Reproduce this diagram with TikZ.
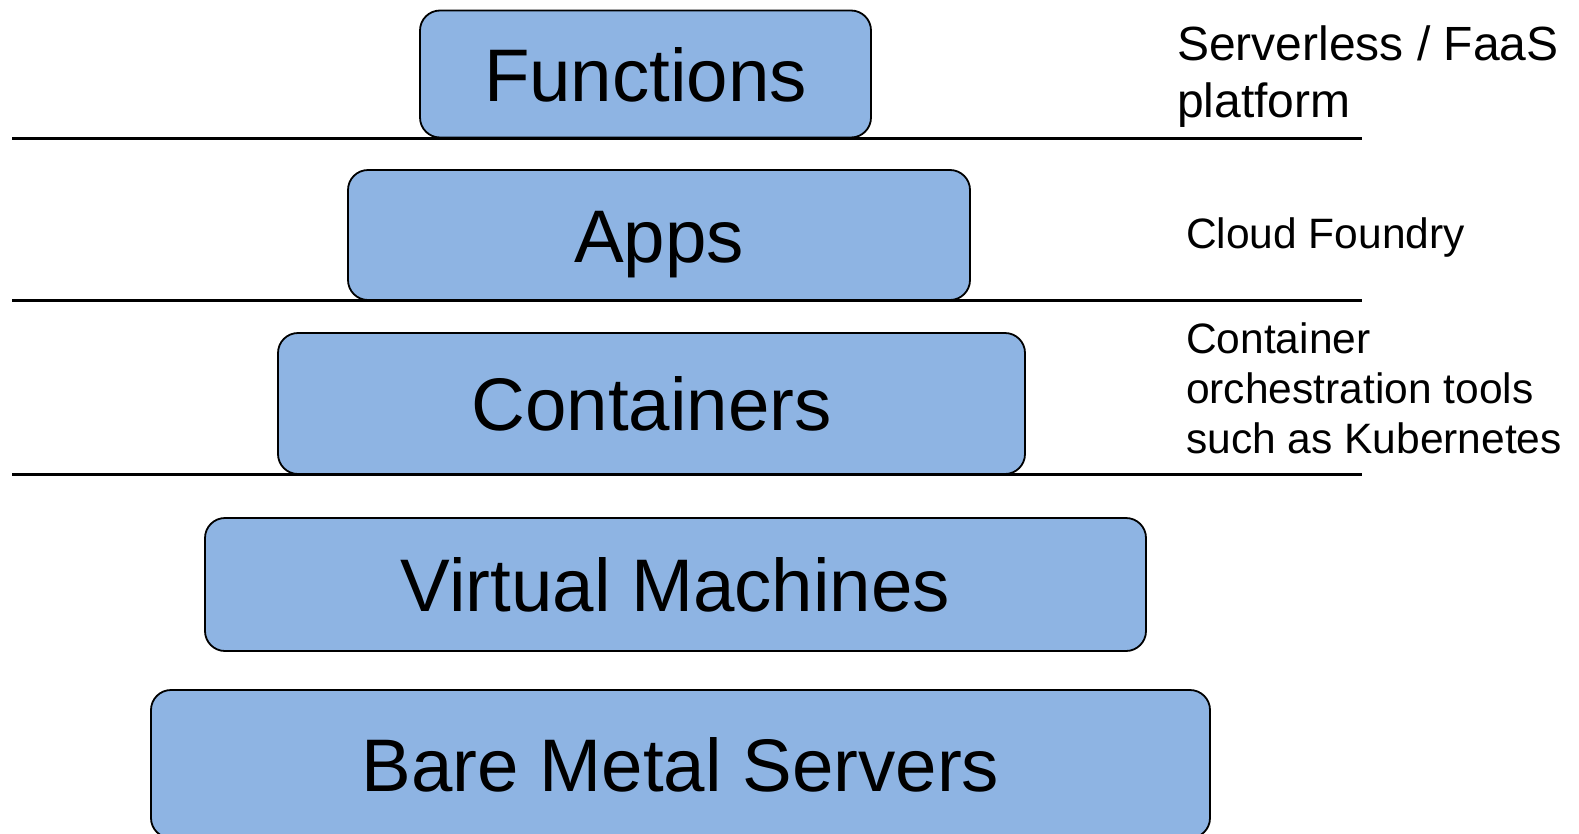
\documentclass[tikz,border=0pt]{standalone}
\usepackage{fontspec}
\setmainfont{Liberation Sans}
\definecolor{layerblue}{RGB}{142,180,227}
\begin{document}
\begin{tikzpicture}[x=1pt,y=-1pt,
  layer/.style={draw=black,line width=1.8pt,fill=layerblue,rounded corners=20pt,
    inner sep=0pt,text height=54pt,text depth=0pt,
    font=\fontsize{74.5}{90}\selectfont},
  sepline/.style={line width=2.2pt,draw=black},
  note/.style={anchor=base west,align=left,inner sep=0pt}]
\useasboundingbox (0,0) rectangle (1579,833);
% separator lines
\coordinate (l1a) at (12,138.5); \coordinate (l1b) at (1362,138.5);
\coordinate (l2a) at (12,300.5); \coordinate (l2b) at (1362,300.5);
\coordinate (l3a) at (12,474.5); \coordinate (l3b) at (1362,474.5);
\draw[sepline] (l1a) -- (l1b);
\draw[sepline] (l2a) -- (l2b);
\draw[sepline] (l3a) -- (l3b);
% layers
\node[layer,minimum width=451pt,minimum height=127pt] (fn) at (645.5,74) {Functions};
\node[layer,minimum width=622pt,minimum height=130pt] (apps) at (659,235) {Apps};
\node[layer,minimum width=747pt,minimum height=141pt] (cont) at (651.5,403.5) {Containers};
\node[layer,minimum width=941pt,minimum height=133pt] (vm) at (675.5,584.5) {Virtual Machines};
\node[layer,minimum width=1059pt,minimum height=148pt] (bm) at (680.5,764) {Bare Metal Servers};
% notes
\node[note,font=\fontsize{48}{57}\selectfont] (n1) at (1177,117) {Serverless / FaaS\\platform};
\node[note,font=\fontsize{42.5}{50}\selectfont] (n2) at (1186,248) {Cloud Foundry};
\node[note,font=\fontsize{42.5}{50}\selectfont] (n3) at (1186,453) {Container\\orchestration tools\\such as Kubernetes};
\end{tikzpicture}
\end{document}
